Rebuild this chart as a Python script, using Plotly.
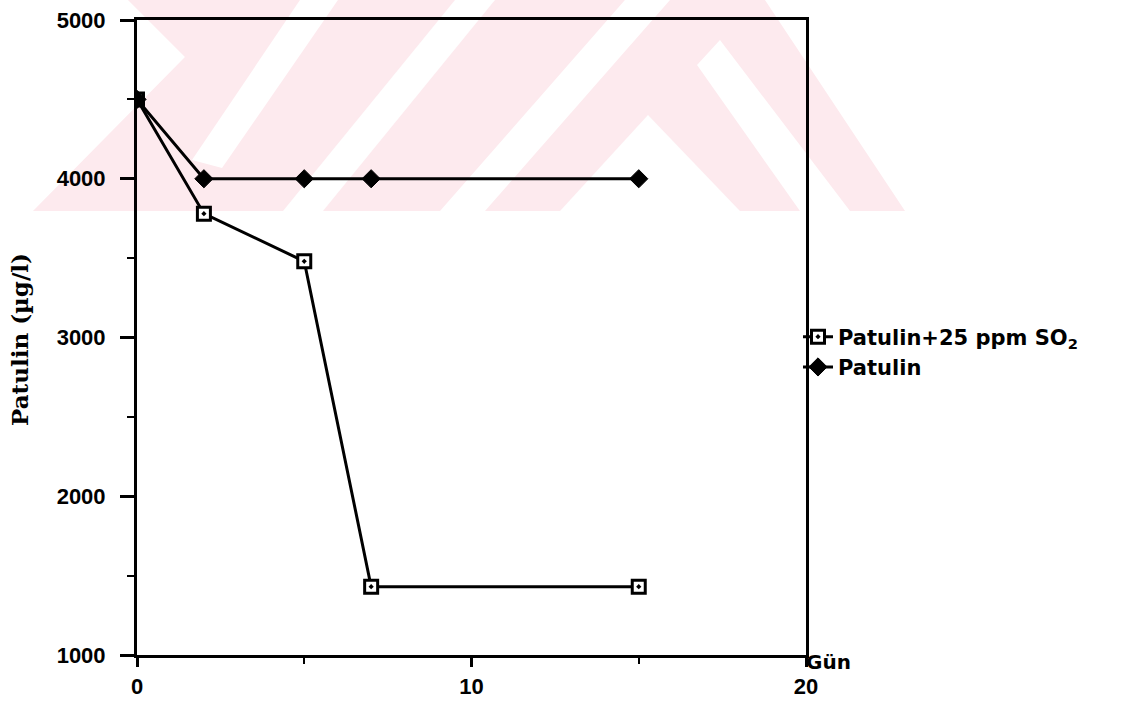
import plotly.graph_objects as go

# Storage time (days) and patulin concentration (µg/l)
days = [0, 2, 5, 7, 15]
patulin_so2 = [4500, 3780, 3480, 1430, 1430]
patulin = [4500, 4000, 4000, 4000, 4000]

x_ticks = [0, 10, 20]
y_ticks = [1000, 2000, 3000, 4000, 5000]

series_names = ["Patulin+25 ppm SO<sub>2</sub>", "Patulin"]

# Plot-area frame in pixels, used to place the background emblem
W, H = 1143, 703
L, R, T, B = 137, 806, 20, 655


def px(x):
    return (x - L) / (R - L)


def py(y):
    return (B - y) / (B - T)


def poly(points):
    return "M " + " L ".join(f"{px(x):.4f},{py(y):.4f}" for x, y in points) + " Z"


pink = "#fdeaee"
emblem = [
    (pink, [(33, 211), (185, 57), (128, 0), (765, 0), (905, 211)]),
    ("white", [(300, 0), (338, 0), (222, 168), (192, 160)]),
    ("white", [(455, 0), (495, 0), (323, 211), (283, 211)]),
    ("white", [(625, 0), (670, 0), (485, 211), (440, 211)]),
    ("white", [(648, 115), (740, 211), (560, 211)]),
    ("white", [(697, 65), (720, 40), (850, 211), (800, 211)]),
]
shapes = [
    dict(type="path", xref="paper", yref="paper", path=poly(pts),
         fillcolor=col, line=dict(width=0), layer="below")
    for col, pts in emblem
]

fig = go.Figure()
fig.add_trace(go.Scatter(
    x=days, y=patulin_so2, name=series_names[0], mode="lines+markers",
    line=dict(color="black", width=3),
    marker=dict(symbol="square-dot", size=13, color="white",
                line=dict(color="black", width=3)),
))
fig.add_trace(go.Scatter(
    x=days, y=patulin, name=series_names[1], mode="lines+markers",
    line=dict(color="black", width=3),
    marker=dict(symbol="diamond", size=14, color="black",
                line=dict(color="black", width=1)),
))

tick_font = dict(family="Liberation Sans", size=22, color="black", weight="bold")

fig.update_layout(
    width=W, height=H,
    margin=dict(l=L, r=W - R, t=T, b=H - B, autoexpand=False),
    paper_bgcolor="white", plot_bgcolor="rgba(0,0,0,0)",
    shapes=shapes,
    showlegend=True,
    legend=dict(
        x=px(798), y=py(352), xanchor="left", yanchor="middle",
        font=dict(family="DejaVu Sans", size=21, color="black", weight="bold"),
        bgcolor="rgba(0,0,0,0)", itemwidth=30, traceorder="normal",
    ),
    xaxis=dict(
        range=[0, 20], tickvals=x_ticks, ticktext=[str(v) for v in x_ticks],
        showgrid=False, zeroline=False, showline=True, linecolor="black",
        linewidth=3, mirror=True, ticks="outside", ticklen=9, tickwidth=3,
        tickcolor="black", tickfont=tick_font, ticklabelstandoff=1,
        automargin=False,
        minor=dict(dtick=5, ticks="outside", ticklen=6, tickwidth=2,
                   tickcolor="black", showgrid=False),
    ),
    yaxis=dict(
        range=[1000, 5000], tickvals=y_ticks, ticktext=[str(v) for v in y_ticks],
        showgrid=False, zeroline=False, showline=True, linecolor="black",
        linewidth=3, mirror=True, ticks="outside", ticklen=14, tickwidth=3,
        tickcolor="black", tickfont=tick_font, ticklabelstandoff=10,
        automargin=False,
        minor=dict(dtick=500, ticks="outside", ticklen=7, tickwidth=2,
                   tickcolor="black", showgrid=False),
    ),
    annotations=[
        dict(text="Patulin (µg/l)", xref="paper", yref="paper",
             x=px(19), y=py(340), xanchor="center", yanchor="middle",
             textangle=-90, showarrow=False,
             font=dict(family="DejaVu Serif", size=23, color="black", weight="bold")),
        dict(text="Gün", xref="paper", yref="paper",
             x=px(828), y=py(662), xanchor="center", yanchor="middle",
             showarrow=False,
             font=dict(family="DejaVu Sans", size=20, color="black", weight="bold")),
    ],
)

fig.write_html("out.html")
